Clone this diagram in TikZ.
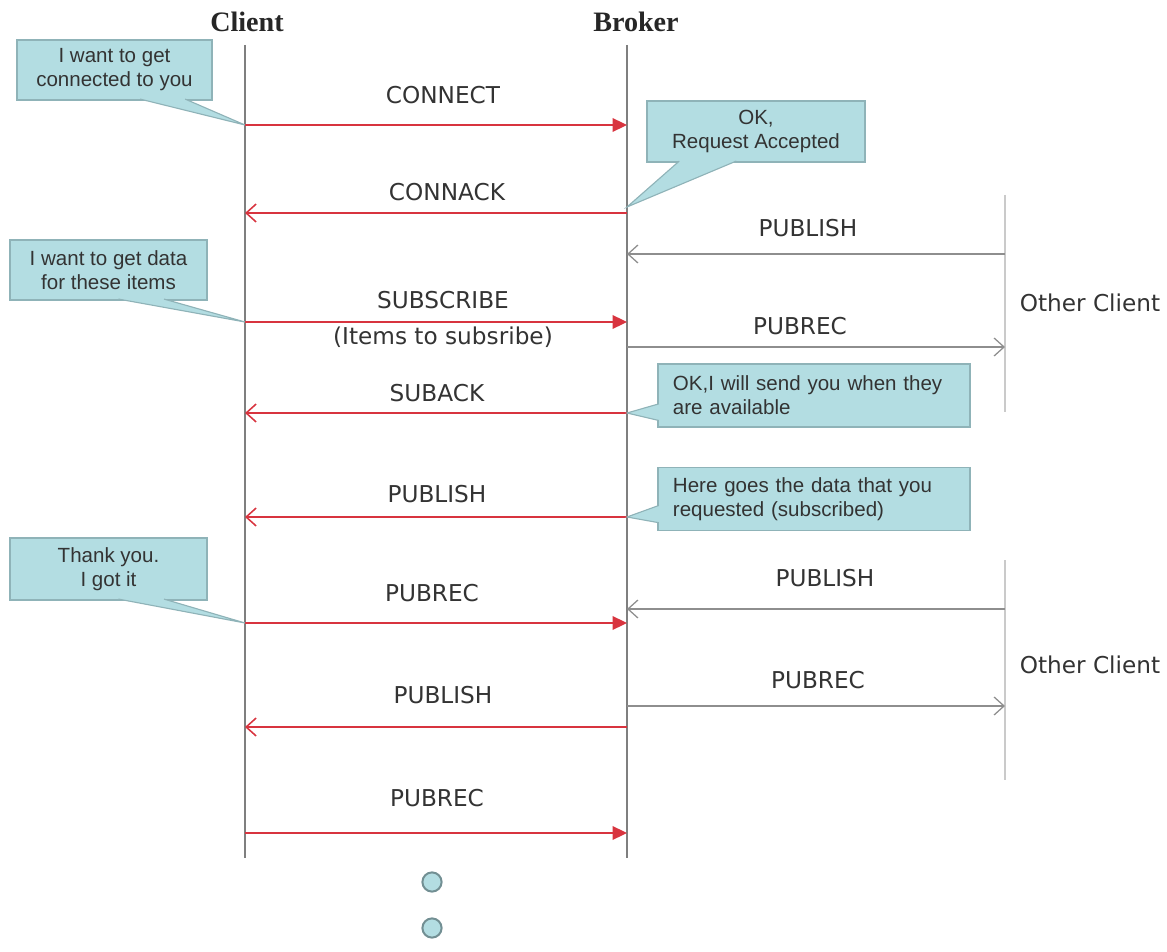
\documentclass[tikz,border=0pt]{standalone}
\usepackage{fontspec}
\setmainfont{DejaVu Sans}
\newfontfamily\calloutfont{Liberation Sans}
\newfontfamily\headfont{Liberation Serif}
\usetikzlibrary{calc, arrows.meta}
\definecolor{msgred}{HTML}{D8343F}
\definecolor{lifegray}{HTML}{7F7F7F}
\definecolor{othergray}{HTML}{CACACA}
\definecolor{replygray}{HTML}{8E8E8E}
\definecolor{callfill}{HTML}{B3DDE2}
\definecolor{callline}{HTML}{8FB3B8}
\definecolor{labeltext}{HTML}{333333}

\begin{document}
\begin{tikzpicture}[
    x=0.025cm, y=-0.025cm,
    font=\fontsize{16.5}{19}\selectfont,
    % Styles
    lifeline/.style={
        draw=lifegray,
        line width=1.3pt
    },
    otherline/.style={
        draw=othergray,
        line width=0.8pt
    },
    headlabel/.style={
        font=\headfont\bfseries\fontsize{20}{22}\selectfont,
        text=black!85
    },
    msglabel/.style={
        text=labeltext,
        inner sep=1pt
    },
    sendarrow/.style={
        -{Triangle[length=3.6mm, width=3.4mm]},
        draw=msgred,
        line width=1.1pt
    },
    backarrow/.style={
        -{Straight Barb[length=2.5mm, width=4.5mm]},
        draw=msgred,
        line width=1.1pt
    },
    otherarrow/.style={
        -{Straight Barb[length=2.5mm, width=4.5mm]},
        draw=replygray,
        line width=0.9pt
    },
    callbox/.style={
        rectangle,
        draw=callline,
        fill=callfill,
        line width=0.8pt,
        font=\calloutfont\fontsize{14.6}{17}\selectfont,
        text=black!80,
        align=center,
        inner sep=2pt
    },
    widecall/.style={
        callbox,
        align=left,
        text width=7.05cm,
        inner xsep=0.375cm,
        minimum height=1.575cm
    },
    callptr/.style={
        fill=callfill,
        draw=callline,
        line width=0.8pt
    },
    dotnode/.style={
        circle,
        draw=callline!80!black,
        fill=callfill,
        line width=1.4pt,
        minimum size=0.48cm,
        inner sep=0pt
    }
]
    \useasboundingbox (0,0) rectangle (1167,952);

    % ================= LIFELINES =================
    \coordinate (client-top) at (245,45);
    \coordinate (client-bot) at (245,858);
    \coordinate (broker-top) at (627,45);
    \coordinate (broker-bot) at (627,858);
    \coordinate (other1-top) at (1005,195);
    \coordinate (other1-bot) at (1005,412);
    \coordinate (other2-top) at (1005,560);
    \coordinate (other2-bot) at (1005,780);

    \node[headlabel] (client) at (247,22) {Client};
    \node[headlabel] (broker) at (636,22) {Broker};
    \node[msglabel] (other1) at (1090,303) {Other Client};
    \node[msglabel] (other2) at (1090,665) {Other Client};

    \draw[lifeline] (client-top) -- (client-bot);
    \draw[lifeline] (broker-top) -- (broker-bot);
    \draw[otherline] (other1-top) -- (other1-bot);
    \draw[otherline] (other2-top) -- (other2-bot);

    % ================= MESSAGE POINTS =================
    \coordinate (c-connect) at (245,125);   \coordinate (b-connect) at (627,125);
    \coordinate (c-connack) at (245,213);   \coordinate (b-connack) at (627,213);
    \coordinate (c-subscribe) at (245,322); \coordinate (b-subscribe) at (627,322);
    \coordinate (c-suback) at (245,413);    \coordinate (b-suback) at (627,413);
    \coordinate (c-publish) at (245,517);   \coordinate (b-publish) at (627,517);
    \coordinate (c-pubrec) at (245,623);    \coordinate (b-pubrec) at (627,623);
    \coordinate (c-publish2) at (245,727);  \coordinate (b-publish2) at (627,727);
    \coordinate (c-pubrec2) at (245,833);   \coordinate (b-pubrec2) at (627,833);

    \coordinate (b-opub1) at (627,254);     \coordinate (o-opub1) at (1005,254);
    \coordinate (b-orec1) at (627,347);     \coordinate (o-orec1) at (1005,347);
    \coordinate (b-opub2) at (627,609);     \coordinate (o-opub2) at (1005,609);
    \coordinate (b-orec2) at (627,706);     \coordinate (o-orec2) at (1005,706);

    % ================= CLIENT <-> BROKER =================
    \draw[sendarrow] (c-connect) -- (b-connect);
    \node[msglabel] (l-connect) at (443,95) {CONNECT};

    \draw[backarrow] (b-connack) -- (c-connack);
    \node[msglabel] (l-connack) at (447,192) {CONNACK};

    \draw[sendarrow] (c-subscribe) -- (b-subscribe);
    \node[msglabel] (l-subscribe) at (443,300) {SUBSCRIBE};
    \node[msglabel] (l-items) at (443,337) {(Items to subsribe)};

    \draw[backarrow] (b-suback) -- (c-suback);
    \node[msglabel] (l-suback) at (437,393) {SUBACK};

    \draw[backarrow] (b-publish) -- (c-publish);
    \node[msglabel] (l-publish) at (437,494) {PUBLISH};

    \draw[sendarrow] (c-pubrec) -- (b-pubrec);
    \node[msglabel] (l-pubrec) at (432,593) {PUBREC};

    \draw[backarrow] (b-publish2) -- (c-publish2);
    \node[msglabel] (l-publish2) at (443,695) {PUBLISH};

    \draw[sendarrow] (c-pubrec2) -- (b-pubrec2);
    \node[msglabel] (l-pubrec2) at (437,798) {PUBREC};

    % ================= BROKER <-> OTHER CLIENT =================
    \draw[otherarrow] (o-opub1) -- (b-opub1);
    \node[msglabel] (l-opub1) at (808,228) {PUBLISH};

    \draw[otherarrow] (b-orec1) -- (o-orec1);
    \node[msglabel] (l-orec1) at (800,326) {PUBREC};

    \draw[otherarrow] (o-opub2) -- (b-opub2);
    \node[msglabel] (l-opub2) at (825,578) {PUBLISH};

    \draw[otherarrow] (b-orec2) -- (o-orec2);
    \node[msglabel] (l-orec2) at (818,680) {PUBREC};

    % ================= CALLOUTS =================
    \node[callbox, minimum width=4.875cm, minimum height=1.5cm] (cb-connect) at (114.5,70)
        {I want to get\\connected to you};
    \filldraw[callptr] ($(cb-connect.south west)!0.63!(cb-connect.south east)+(0,-1.5)$)
        -- (c-connect) -- ($(cb-connect.south west)!0.86!(cb-connect.south east)+(0,-1.5)$);

    \node[callbox, minimum width=5.45cm, minimum height=1.525cm] (cb-connack) at (756,131.5)
        {OK,\\Request Accepted};
    \filldraw[callptr] ($(cb-connack.south west)!0.41!(cb-connack.south east)+(0,-1.5)$)
        -- ($(b-connack)+(0,-6)$) -- ($(cb-connack.south west)!0.15!(cb-connack.south east)+(0,-1.5)$);

    \node[callbox, minimum width=4.925cm, minimum height=1.5cm] (cb-subscribe) at (108.5,270)
        {I want to get data\\for these items};
    \filldraw[callptr] ($(cb-subscribe.south west)!0.55!(cb-subscribe.south east)+(0,-1.5)$)
        -- (c-subscribe) -- ($(cb-subscribe.south west)!0.78!(cb-subscribe.south east)+(0,-1.5)$);

    \node[widecall] (cb-suback) at (814,395.5)
        {OK,I will send you when they\\are available};
    \filldraw[callptr] ($(cb-suback.north west)!0.63!(cb-suback.south west)+(1.5,0)$)
        -- (b-suback) -- ($(cb-suback.north west)!0.89!(cb-suback.south west)+(1.5,0)$);

    \node[widecall] (cb-publish) at (814,499)
        {Here goes the data that you\\requested (subscribed)};
    \filldraw[callptr] ($(cb-publish.north west)!0.6!(cb-publish.south west)+(1.5,0)$)
        -- (b-publish) -- ($(cb-publish.north west)!0.87!(cb-publish.south west)+(1.5,0)$);

    \node[callbox, minimum width=4.925cm, minimum height=1.55cm] (cb-pubrec) at (108.5,569)
        {Thank you.\\I got it};
    \filldraw[callptr] ($(cb-pubrec.south west)!0.55!(cb-pubrec.south east)+(0,-1.5)$)
        -- (c-pubrec) -- ($(cb-pubrec.south west)!0.78!(cb-pubrec.south east)+(0,-1.5)$);

    % ================= CONTINUATION DOTS =================
    \node[dotnode] (dot1) at (432,882) {};
    \node[dotnode] (dot2) at (432,928) {};

\end{tikzpicture}
\end{document}
